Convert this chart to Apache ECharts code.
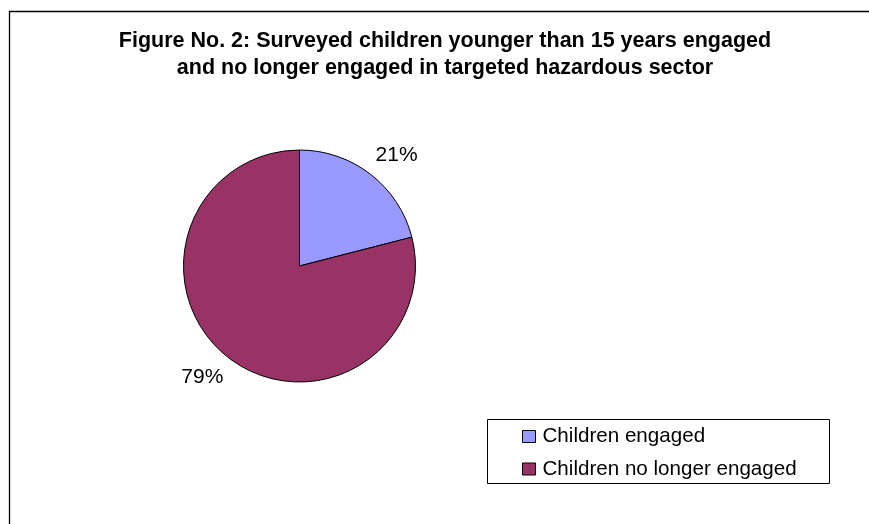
<!DOCTYPE html>
<html>
<head>
<meta charset="utf-8">
<script src="https://cdn.jsdelivr.net/npm/echarts@6/dist/echarts.min.js"></script>
<style>
html,body{margin:0;padding:0;background:#fff;}
#chart{width:869px;height:524px;}
</style>
</head>
<body>
<div id="chart"></div>
<script>
const titleLines = [
  'Figure No. 2: Surveyed children younger than 15 years engaged',
  'and no longer engaged in targeted hazardous sector'
];
const categories = ['Children engaged', 'Children no longer engaged'];
const values = [21, 79];
const colors = ['#9999FF', '#993366'];

const chart = echarts.init(document.getElementById('chart'), null, {renderer: 'canvas'});
const option = {
  animation: false,
  backgroundColor: '#ffffff',
  color: colors,
  graphic: [
    { type: 'rect', shape: {x: 9.5, y: 11.5, width: 1000, height: 1000},
      style: {fill: 'none', stroke: '#000', lineWidth: 1.3}, silent: true },
    { type: 'rect', shape: {x: 487.5, y: 419.5, width: 342, height: 64},
      style: {fill: 'none', stroke: '#000', lineWidth: 1}, silent: true },
    { type: 'text', x: 445, y: 41,
      style: {text: titleLines[0], font: 'bold 21.5px "Liberation Sans", Arial', fill: '#000',
              textAlign: 'center', textVerticalAlign: 'middle'} },
    { type: 'text', x: 445, y: 68,
      style: {text: titleLines[1], font: 'bold 21.5px "Liberation Sans", Arial', fill: '#000',
              textAlign: 'center', textVerticalAlign: 'middle'} }
  ],
  legend: {
    orient: 'vertical',
    left: 522,
    top: 426,
    icon: 'rect',
    itemWidth: 13,
    itemHeight: 12,
    itemGap: 11.5,
    padding: 0,
    selectedMode: false,
    itemStyle: {borderColor: '#000', borderWidth: 1},
    textStyle: {fontFamily: '"Liberation Sans", Arial', fontSize: 20.6, color: '#000', lineHeight: 20, padding: [0,0,0,2]},
    data: categories
  },
  series: [{
    type: 'pie',
    center: [299.5, 266],
    radius: 116,
    startAngle: 90,
    clockwise: true,
    avoidLabelOverlap: false,
    silent: true,
    itemStyle: {borderColor: '#000', borderWidth: 1},
    label: {
      show: true,
      position: 'outside',
      formatter: function (p) { return p.value + '%'; },
      fontFamily: '"Liberation Sans", Arial',
      fontSize: 21,
      color: '#000',
      distanceToLabelLine: -10
    },
    labelLine: {show: false, length: 24.5, length2: 0},
    data: categories.map(function (c, i) { return {name: c, value: values[i]}; })
  }]
};
chart.setOption(option);
</script>
</body>
</html>
